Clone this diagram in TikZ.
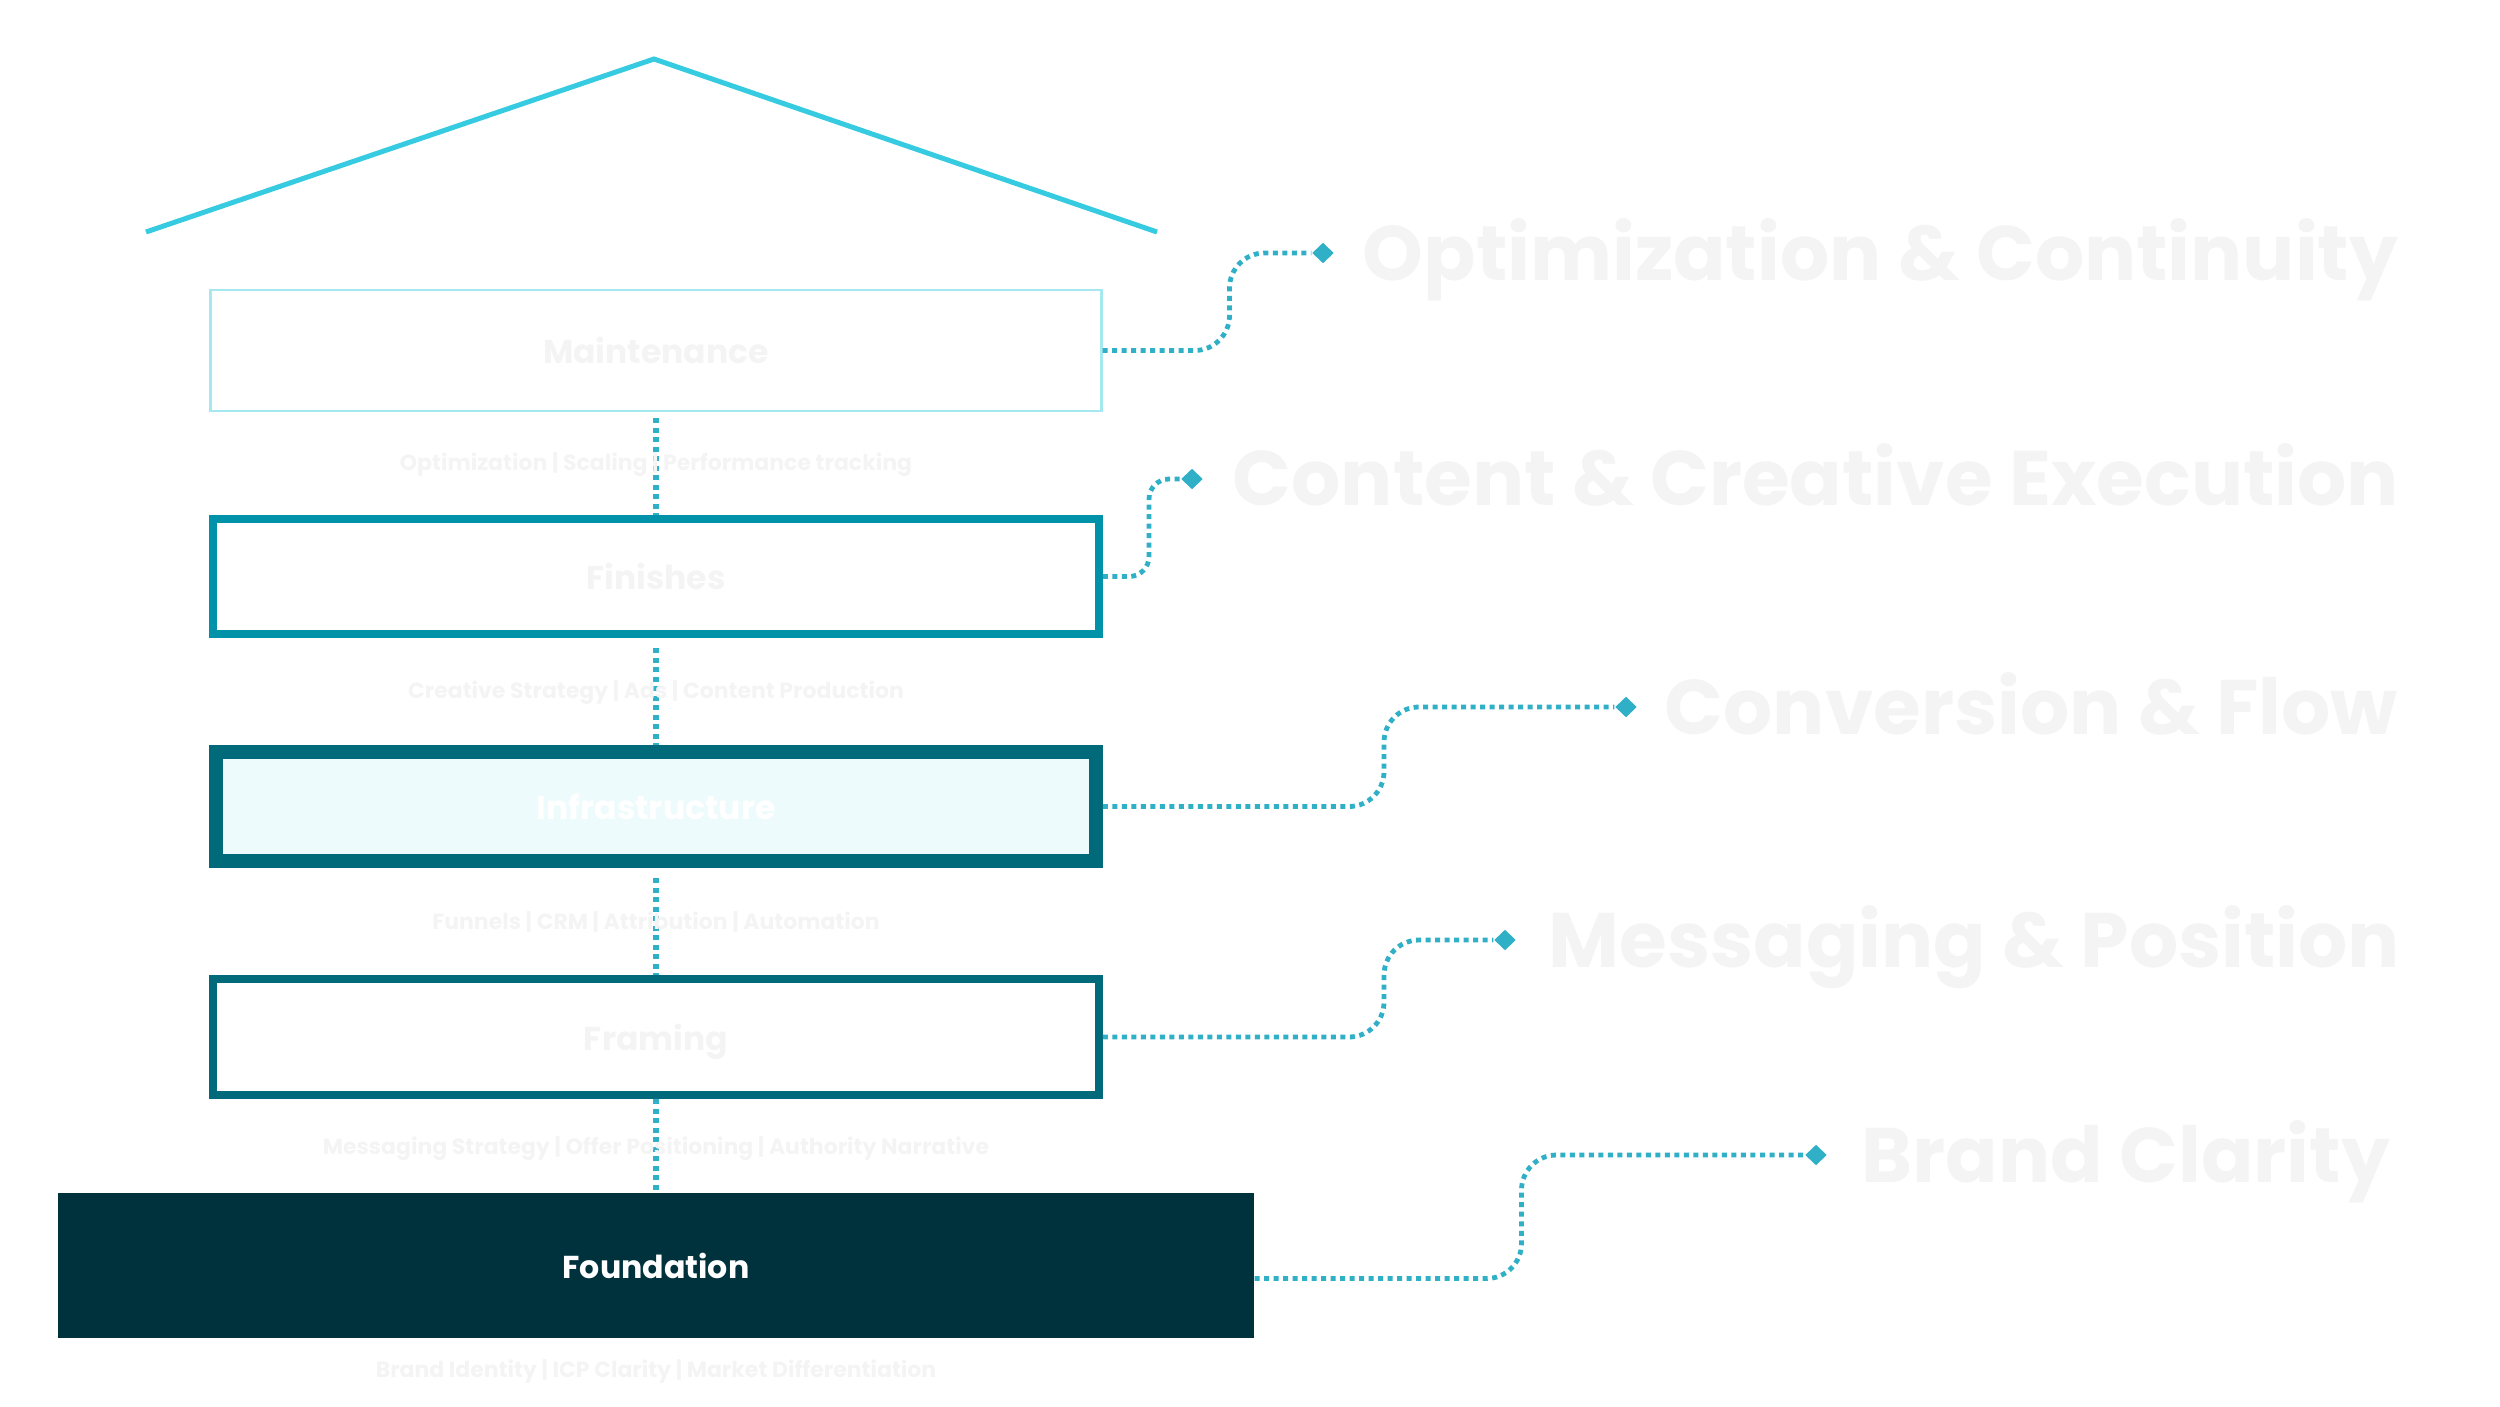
\documentclass[tikz,border=0pt]{standalone}
\usepackage{fontspec}
\setmainfont{Poppins}
\usetikzlibrary{shapes.geometric}
\definecolor{roofcyan}{HTML}{36CBE0}
\definecolor{dotcyan}{HTML}{30B0C6}
\definecolor{paleedge}{HTML}{A6E8F0}
\definecolor{tealedge}{HTML}{0092A8}
\definecolor{deepteal}{HTML}{00697A}
\definecolor{icefill}{HTML}{EEFBFC}
\definecolor{navyteal}{HTML}{00323D}
\definecolor{ghost}{HTML}{F4F4F4}
\begin{document}
\begin{tikzpicture}[x=0.01cm,y=-0.01cm,
  layer/.style={rectangle,inner sep=0pt,text depth=0pt,font=\fontsize{9.4}{11}\selectfont\bfseries,text=ghost},
  sub/.style={anchor=base,inner sep=0pt,font=\fontsize{6.25}{7}\selectfont\bfseries,text=ghost},
  pillar/.style={dotcyan,line width=0.048cm,dash pattern=on 0.05cm off 0.045cm},
  stack/.style={pillar,line width=0.065cm},
  tip/.style={diamond,fill=dotcyan,inner sep=0pt,minimum width=0.22cm,minimum height=0.21cm},
  goal/.style={anchor=base west,inner sep=0pt,font=\fontsize{22}{26}\selectfont\bfseries,text=ghost}]
\useasboundingbox (0,0) rectangle (2500,1406);
\draw[roofcyan,line width=0.05cm] (146,232) -- (654,59) -- (1157,232);
\node[layer,draw=paleedge,line width=0.025cm,minimum width=8.9cm,minimum height=1.21cm] (maint) at (656,350.5) {Maintenance};
\node[layer,draw=tealedge,line width=0.08cm,minimum width=8.85cm,minimum height=1.15cm] (fin) at (656,576.5) {Finishes};
\node[layer,draw=deepteal,fill=icefill,text=white,line width=0.14cm,minimum width=8.79cm,minimum height=1.09cm] (infra) at (656,806.5) {Infrastructure};
\node[layer,draw=deepteal,line width=0.08cm,minimum width=8.85cm,minimum height=1.16cm] (fram) at (656,1037) {Framing};
\node[layer,fill=navyteal,text=white,font=\fontsize{9}{11}\selectfont\bfseries,minimum width=11.95cm,minimum height=1.45cm] (found) at (656,1265.5) {Foundation};
\draw[stack] ([yshift=-0.06cm]maint.south) -- (fin.north);
\draw[stack] ([yshift=-0.1cm]fin.south) -- (infra.north);
\draw[stack] ([yshift=-0.1cm]infra.south) -- (fram.north);
\draw[stack] (fram.south) -- (found.north);
\node[sub] (s1) at (656,470) {Optimization | Scaling | Performance tracking};
\node[sub] (s2) at (656,698) {Creative Strategy | Ads | Content Production};
\node[sub] (s3) at (656,929) {Funnels | CRM | Attribution | Automation};
\node[sub] (s4) at (656,1154) {Messaging Strategy | Offer Positioning | Authority Narrative};
\node[sub] (s5) at (656,1377) {Brand Identity | ICP Clarity | Market Differentiation};
\node[tip] (t1) at (1323,253) {};
\node[tip] (t2) at (1192,479) {};
\node[tip] (t3) at (1626,707) {};
\node[tip] (t4) at (1505,940) {};
\node[tip] (t5) at (1816,1155) {};
\draw[pillar,rounded corners=0.35cm] (maint.east) -| (1229.5,253) -- (t1);
\draw[pillar,rounded corners=0.2cm] (fin.east) -| (1149,479) -- (t2);
\draw[pillar,rounded corners=0.35cm] (infra.east) -| (1384,707) -- (t3);
\draw[pillar,rounded corners=0.35cm] (fram.east) -| (1384,940) -- (t4);
\draw[pillar,rounded corners=0.35cm] ([yshift=-0.13cm]found.east) -| (1521.5,1155) -- (t5);
\node[goal] (g1) at (1362,280) {Optimization \& Continuity};
\node[goal] (g2) at (1232,505) {Content \& Creative Execution};
\node[goal] (g3) at (1664,734) {Conversion \& Flow};
\node[goal] (g4) at (1548,967) {Messaging \& Position};
\node[goal] (g5) at (1861,1182) {Brand Clarity};
\end{tikzpicture}
\end{document}
